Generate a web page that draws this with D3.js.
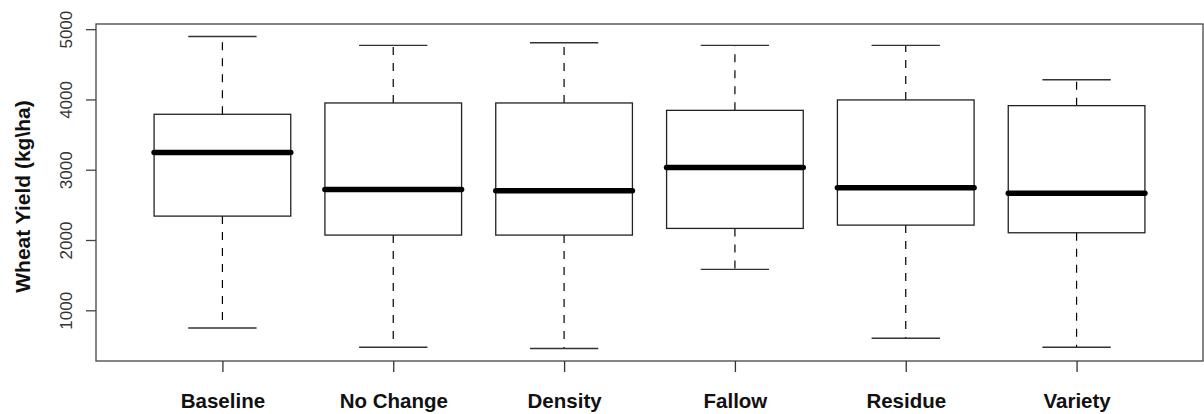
<!DOCTYPE html>
<html>
<head>
<meta charset="utf-8">
<script src="https://cdn.jsdelivr.net/npm/d3@7"></script>
<style>
  html, body { margin: 0; padding: 0; background: #fff; }
  svg { display: block; }
</style>
</head>
<body>
<svg id="chart" width="1204" height="414"></svg>
<script>
// ---- Data ----
const categories = ["Baseline", "No Change", "Density", "Fallow", "Residue", "Variety"];
const whiskerLow  = [749, 474, 456, 1582, 602, 474];
const quartile1   = [2340, 2070, 2070, 2165, 2212, 2103];
const medians     = [3244, 2719, 2700, 3031, 2743, 2666];
const quartile3   = [3789, 3950, 3950, 3845, 3993, 3912];
const whiskerHigh = [4896, 4769, 4807, 4769, 4769, 4281];
const yTicks = [1000, 2000, 3000, 4000, 5000];
const yTitle = "Wheat Yield (kg\\ha)";

// ---- Layout ----
const W = 1204, H = 414;
const plot = { left: 96, right: 1203, top: 24, bottom: 361 };

const svg = d3.select("#chart");

const n = categories.length;
const x = d3.scaleLinear()
  .domain([0.5 - 0.04 * n, n + 0.5 + 0.04 * n])
  .range([plot.left, plot.right]);

const lo = d3.min(whiskerLow), hi = d3.max(whiskerHigh);
const pad = (hi - lo) * 0.04;
const y = d3.scaleLinear()
  .domain([lo - pad, hi + pad])
  .range([plot.bottom, plot.top]);

const data = categories.map((c, i) => ({
  name: c, i: i + 1,
  lo: whiskerLow[i], q1: quartile1[i], med: medians[i], q3: quartile3[i], hi: whiskerHigh[i]
}));

const boxW = x(1.4) - x(1.0);   // half box width (boxwex 0.8)
const capW = x(1.2) - x(1.0);   // half staple width

const g = svg.append("g");

// whiskers (dashed)
g.selectAll(".wl").data(data).enter().append("line")
  .attr("x1", d => x(d.i)).attr("x2", d => x(d.i))
  .attr("y1", d => y(d.q1)).attr("y2", d => y(d.lo))
  .attr("stroke", "#000").attr("stroke-width", 1.2)
  .attr("stroke-dasharray", "8,8");
g.selectAll(".wh").data(data).enter().append("line")
  .attr("x1", d => x(d.i)).attr("x2", d => x(d.i))
  .attr("y1", d => y(d.q3)).attr("y2", d => y(d.hi))
  .attr("stroke", "#000").attr("stroke-width", 1.2)
  .attr("stroke-dasharray", "8,8");

// staples
[["lo"], ["hi"]].forEach(([k]) => {
  g.selectAll(".st" + k).data(data).enter().append("line")
    .attr("x1", d => x(d.i) - capW).attr("x2", d => x(d.i) + capW)
    .attr("y1", d => y(d[k])).attr("y2", d => y(d[k]))
    .attr("stroke", "#333").attr("stroke-width", 1.4);
});

// boxes
g.selectAll(".box").data(data).enter().append("rect")
  .attr("x", d => x(d.i) - boxW)
  .attr("width", 2 * boxW)
  .attr("y", d => y(d.q3))
  .attr("height", d => y(d.q1) - y(d.q3))
  .attr("fill", "none").attr("stroke", "#222").attr("stroke-width", 1.3);

// medians
g.selectAll(".med").data(data).enter().append("line")
  .attr("x1", d => x(d.i) - boxW).attr("x2", d => x(d.i) + boxW)
  .attr("y1", d => y(d.med)).attr("y2", d => y(d.med))
  .attr("stroke", "#000").attr("stroke-width", 5.5)
  .attr("stroke-linecap", "round");

// frame
svg.append("rect")
  .attr("x", plot.left).attr("y", plot.top)
  .attr("width", plot.right - plot.left).attr("height", plot.bottom - plot.top)
  .attr("fill", "none").attr("stroke", "#444").attr("stroke-width", 1.3);

// y axis
const yAxis = d3.axisLeft(y).tickValues(yTicks).tickSize(10).tickPadding(0).tickFormat(d3.format("d"));
const ya = svg.append("g").attr("transform", `translate(${plot.left},0)`).call(yAxis);
ya.select(".domain").remove();
ya.selectAll(".tick line").attr("stroke", "#444").attr("stroke-width", 1.3);
ya.selectAll(".tick text")
  .attr("x", null).attr("dy", null)
  .attr("transform", "translate(-24,0) rotate(-90)")
  .attr("text-anchor", "middle")
  .attr("font-family", "'Liberation Sans', Arial, sans-serif")
  .attr("font-size", 17)
  .attr("fill", "#333");

// x axis
const xAxis = d3.axisBottom(x).tickValues(d3.range(1, n + 1)).tickSize(11).tickPadding(0)
  .tickFormat(d => categories[d - 1]);
const xa = svg.append("g").attr("transform", `translate(0,${plot.bottom})`).call(xAxis);
xa.select(".domain").remove();
xa.selectAll(".tick line").attr("stroke", "#333").attr("stroke-width", 1.3);
xa.selectAll(".tick text")
  .attr("y", 47).attr("dy", null)
  .attr("font-family", "'Liberation Sans', Arial, sans-serif")
  .attr("font-weight", "bold")
  .attr("font-size", 20.5)
  .attr("fill", "#111");

// y title
svg.append("text")
  .attr("transform", `translate(30,${(plot.top + plot.bottom) / 2 + 4}) rotate(-90)`)
  .attr("text-anchor", "middle")
  .attr("font-family", "'Liberation Sans', Arial, sans-serif")
  .attr("font-weight", "bold")
  .attr("font-size", 21)
  .attr("fill", "#111")
  .text(yTitle);
</script>
</body>
</html>
